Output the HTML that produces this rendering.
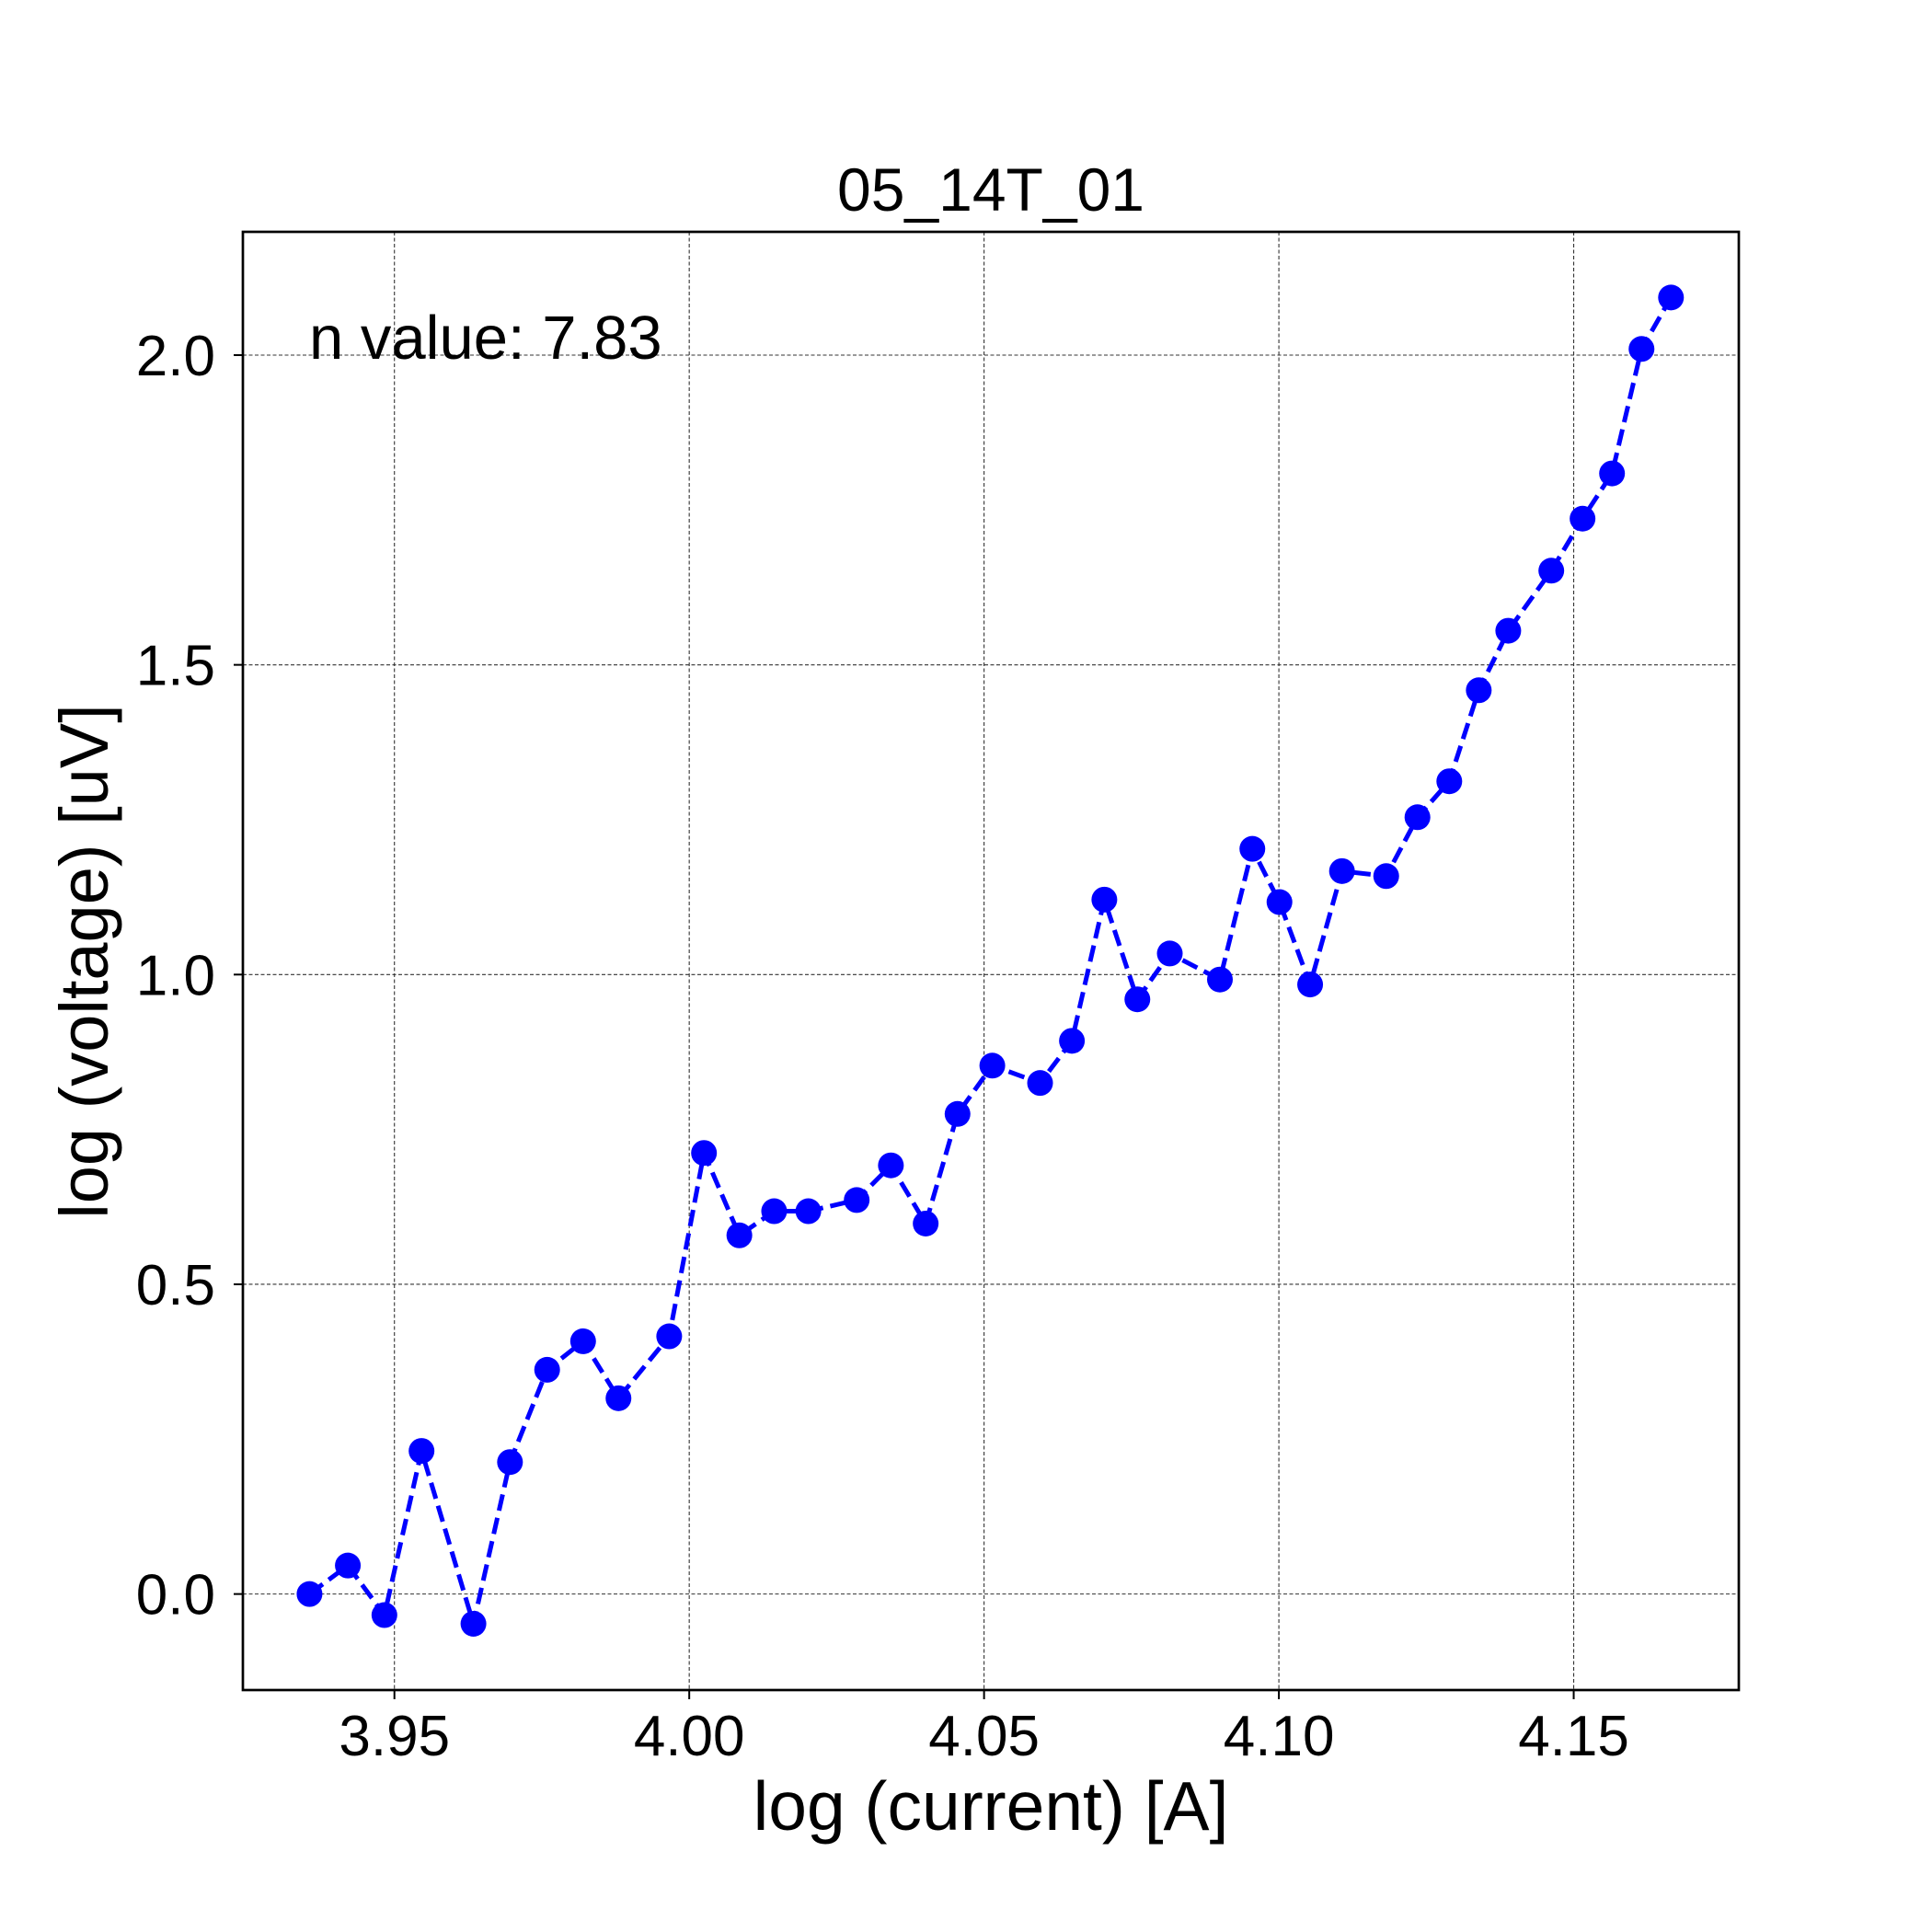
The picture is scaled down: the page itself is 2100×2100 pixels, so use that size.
<!DOCTYPE html>
<html><head><meta charset="utf-8"><style>html,body{margin:0;padding:0;background:#fff}svg{display:block}</style></head>
<body>
<svg id="chart" width="2100" height="2100" viewBox="0 0 2100 2100" xmlns="http://www.w3.org/2000/svg" font-family="'Liberation Sans', sans-serif">
<rect width="2100" height="2100" fill="#fff"/>
<g id="grid"></g>
<g id="series"></g>
<rect x="264" y="252" width="1626" height="1585" fill="none" stroke="#000" stroke-width="2.7"/>
<g id="ticks"></g>
<text x="1077" y="229" font-size="66" text-anchor="middle">05_14T_01</text>
<text x="336" y="390" font-size="67">n value: 7.83</text>
<text x="1077" y="1989" font-size="75" text-anchor="middle">log (current) [A]</text>
<text x="0" y="0" font-size="74" text-anchor="middle" transform="translate(117,1045) rotate(-90)">log (voltage) [uV]</text>
</svg>
<script>
const xValues = [3.9356,3.9421,3.9483,3.9546,3.9634,3.9696,3.9759,3.9820,3.9880,3.9966,4.0025,4.0085,4.0144,4.0202,4.0284,4.0342,4.0401,4.0455,4.0514,4.0595,4.0649,4.0704,4.0760,4.0815,4.0900,4.0955,4.1001,4.1053,4.1107,4.1182,4.1235,4.1289,4.1339,4.1389,4.1462,4.1515,4.1565,4.1615,4.1665];
const yValues = [0,0.046,-0.034,0.231,-0.048,0.213,0.362,0.408,0.316,0.416,0.712,0.579,0.618,0.618,0.636,0.692,0.598,0.775,0.853,0.825,0.893,1.121,0.960,1.034,0.992,1.203,1.117,0.984,1.167,1.159,1.254,1.312,1.459,1.555,1.652,1.736,1.809,2.010,2.093];
const xTicks = [3.95,4.00,4.05,4.10,4.15];
const xTickLabels = ["3.95","4.00","4.05","4.10","4.15"];
const yTicks = [0,0.5,1.0,1.5,2.0];
const yTickLabels = ["0.0","0.5","1.0","1.5","2.0"];
const X0=264,X1=1890,Y0=1837,Y1=252;
const xmin=3.9243,xmax=4.1780,ymin=-0.155,ymax=2.199;
function sx(v){return X0+(v-xmin)/(xmax-xmin)*(X1-X0);}
function sy(v){return Y0-(v-ymin)/(ymax-ymin)*(Y0-Y1);}
const NS="http://www.w3.org/2000/svg";
function mk(t,a,p){const e=document.createElementNS(NS,t);for(const k in a)e.setAttribute(k,a[k]);p.appendChild(e);return e;}
const grid=document.getElementById('grid'),ticks=document.getElementById('ticks'),ser=document.getElementById('series');
xTicks.forEach((v,i)=>{const x=sx(v);
 const g=mk('line',{x1:x,x2:x,y1:Y1,y2:Y0,stroke:'#333','stroke-width':1.1,'stroke-dasharray':'4,2.5'},grid);
 
 
 const t=mk('line',{x1:x,x2:x,y1:Y0,y2:Y0+10,stroke:'#000','stroke-width':2},ticks);
 
 
 const l=mk('text',{x:x,y:1908,'font-size':62,'text-anchor':'middle'},ticks);l.textContent=xTickLabels[i];
 
 
});
yTicks.forEach((v,i)=>{const y=sy(v);
 const g=mk('line',{x1:X0,x2:X1,y1:y,y2:y,stroke:'#333','stroke-width':1.1,'stroke-dasharray':'4,2.5'},grid);
 
 
 const t=mk('line',{x1:X0-10,x2:X0,y1:y,y2:y,stroke:'#000','stroke-width':2},ticks);
 
 
 const l=mk('text',{x:X0-30,y:y+22,'font-size':62,'text-anchor':'end'},ticks);l.textContent=yTickLabels[i];
 
 
});
const pts=xValues.map((v,i)=>sx(v)+','+sy(yValues[i])).join(' ');
const pl=mk('polyline',{points:pts,fill:'none',stroke:'#0000ff','stroke-width':5,'stroke-dasharray':'18,8'},ser);


xValues.forEach((v,i)=>{const c=mk('circle',{cx:sx(v),cy:sy(yValues[i]),r:14,fill:'#0000ff'},ser);
 
 
});
</script>
</body></html>
